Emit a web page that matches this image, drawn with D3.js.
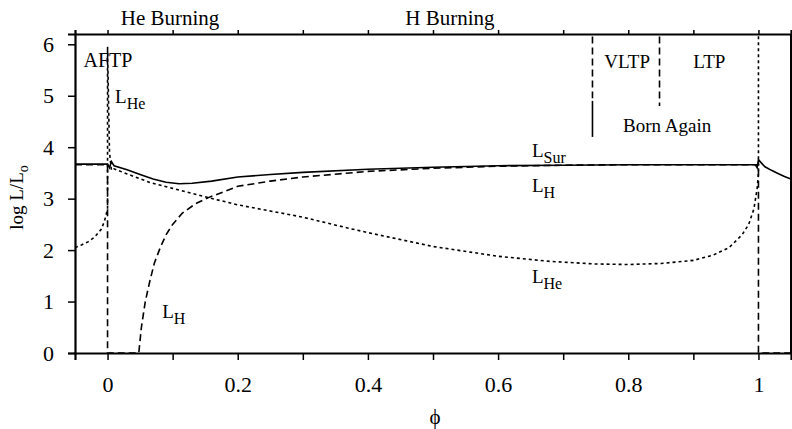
<!DOCTYPE html>
<html lang="en">

<head>
    <meta charset="UTF-8">
    <title>Luminosity vs phase</title>
    <style>
        body { margin: 0; background: #fff; }
        text { font-family: "Liberation Serif", "Times New Roman", serif; fill: #000; }
    </style>
</head>

<body>
    <div id="graph"></div>

    <script src="https://d3js.org/d3.v7.min.js"></script>
    <script>
        // surface luminosity (solid)
        const surPhi = [-0.05, 0, 0.003, 0.006, 0.01, 0.03, 0.05, 0.07, 0.09, 0.11, 0.13, 0.16, 0.2, 0.25, 0.3, 0.4, 0.5, 0.6, 0.7, 0.8, 0.9, 0.995, 0.998, 1.0, 1.004, 1.01, 1.02, 1.03, 1.04, 1.05];
        const surLum = [3.67, 3.67, 3.6, 3.72, 3.64, 3.56, 3.47, 3.38, 3.32, 3.29, 3.3, 3.34, 3.42, 3.47, 3.51, 3.57, 3.61, 3.64, 3.65, 3.66, 3.66, 3.66, 3.6, 3.76, 3.7, 3.62, 3.55, 3.49, 3.43, 3.38];

        // hydrogen burning luminosity (dashed)
        const hPhi = [-0.05, 0, 0, 0.048, 0.052, 0.058, 0.065, 0.072, 0.081, 0.09, 0.1, 0.115, 0.135, 0.155, 0.2, 0.25, 0.3, 0.4, 0.5, 0.6, 0.7, 0.8, 0.9, 1.0, 1.0, 1.05];
        const hLum = [3.66, 3.66, 0, 0, 0.5, 1.0, 1.4, 1.75, 2.05, 2.3, 2.5, 2.72, 2.9, 3.02, 3.24, 3.34, 3.42, 3.53, 3.59, 3.63, 3.65, 3.66, 3.66, 3.66, 0, 0];

        // helium burning luminosity (dotted)
        const hePhi = [-0.05, -0.04, -0.03, -0.02, -0.01, -0.005, -0.002, 0, 0, 0.003, 0.006, 0.01, 0.03, 0.066, 0.1, 0.155, 0.2, 0.3, 0.372, 0.4, 0.5, 0.6, 0.68, 0.75, 0.8, 0.85, 0.9, 0.93, 0.955, 0.975, 0.985, 0.993, 0.998, 1.0, 1.0];
        const heLum = [2.05, 2.1, 2.16, 2.25, 2.4, 2.55, 2.7, 2.8, 5.95, 3.9, 3.55, 3.58, 3.48, 3.31, 3.2, 3.02, 2.88, 2.64, 2.42, 2.34, 2.07, 1.88, 1.78, 1.73, 1.72, 1.74, 1.8, 1.9, 2.05, 2.3, 2.5, 2.8, 3.2, 3.5, 6.5];

        const xTicks = d3.range(0, 1.001, 0.1);
        const xLabels = ["0", "", "0.2", "", "0.4", "", "0.6", "", "0.8", "", "1"];
        const yTicks = [0, 1, 2, 3, 4, 5, 6];

        // phase boundaries for the born again cases
        const vltpPhi = 0.745;
        const ltpPhi = 0.848;

        const width = 792, height = 429;
        const margin = { top: 34, right: 1, bottom: 76, left: 75 };

        const svg = d3.select("#graph").append("svg")
            .attr("width", width)
            .attr("height", height);

        const x = d3.scaleLinear().domain([-0.05, 1.05]).range([margin.left, width - margin.right]);
        const y = d3.scaleLinear().domain([0, 6.2]).range([height - margin.bottom, margin.top]);

        svg.append("clipPath").attr("id", "clip")
            .append("rect")
            .attr("x", margin.left).attr("y", margin.top)
            .attr("width", width - margin.left - margin.right)
            .attr("height", height - margin.top - margin.bottom);

        const plot = svg.append("g").attr("clip-path", "url(#clip)");

        const makeLine = (px, py) => d3.line()
            .x(i => x(px[i]))
            .y(i => y(py[i]))(d3.range(px.length));

        plot.append("path")
            .attr("d", makeLine(hePhi, heLum))
            .attr("fill", "none")
            .attr("stroke", "#000")
            .attr("stroke-width", 1.6)
            .attr("stroke-dasharray", "3,3");

        plot.append("path")
            .attr("d", makeLine(hPhi, hLum))
            .attr("fill", "none")
            .attr("stroke", "#000")
            .attr("stroke-width", 1.6)
            .attr("stroke-dasharray", "7,4");

        plot.append("path")
            .attr("d", makeLine(surPhi, surLum))
            .attr("fill", "none")
            .attr("stroke", "#000")
            .attr("stroke-width", 1.6);

        // VLTP / LTP boundaries
        plot.append("line")
            .attr("x1", x(vltpPhi)).attr("x2", x(vltpPhi))
            .attr("y1", y(6.15)).attr("y2", y(4.95))
            .attr("stroke", "#000").attr("stroke-width", 1.6)
            .attr("stroke-dasharray", "7,4");
        plot.append("line")
            .attr("x1", x(vltpPhi)).attr("x2", x(vltpPhi))
            .attr("y1", y(4.9)).attr("y2", y(4.2))
            .attr("stroke", "#000").attr("stroke-width", 1.6);
        plot.append("line")
            .attr("x1", x(ltpPhi)).attr("x2", x(ltpPhi))
            .attr("y1", y(6.15)).attr("y2", y(4.8))
            .attr("stroke", "#000").attr("stroke-width", 1.6)
            .attr("stroke-dasharray", "7,4");

        // axes
        svg.append("g")
            .attr("transform", `translate(0,${height - margin.bottom})`)
            .call(d3.axisBottom(x).tickValues(xTicks).tickSize(7).tickPadding(16)
                .tickFormat((d, i) => xLabels[i]))
            .call(g => g.select(".domain").attr("stroke-width", 2.2))
            .call(g => g.selectAll(".tick line").attr("stroke-width", 1.5))
            .call(g => g.selectAll("text").style("font-family", "Liberation Serif").style("font-size", "22px"));

        svg.append("g")
            .attr("transform", `translate(0,${margin.top})`)
            .call(d3.axisTop(x).tickValues(xTicks).tickSize(4).tickFormat(""))
            .call(g => g.select(".domain").attr("stroke-width", 2.2))
            .call(g => g.selectAll(".tick line").attr("stroke-width", 1.5));

        svg.append("g")
            .attr("transform", `translate(${margin.left},0)`)
            .call(d3.axisLeft(y).tickValues(yTicks).tickSize(7).tickPadding(14).tickFormat(d3.format("d")))
            .call(g => g.select(".domain").attr("stroke-width", 2.2))
            .call(g => g.selectAll(".tick line").attr("stroke-width", 1.5))
            .call(g => g.selectAll("text").style("font-family", "Liberation Serif").style("font-size", "22px"));

        svg.append("line")
            .attr("x1", width - margin.right).attr("x2", width - margin.right)
            .attr("y1", margin.top).attr("y2", height - margin.bottom)
            .attr("stroke", "#000").attr("stroke-width", 2);

        // axis titles
        svg.append("text")
            .attr("x", x(0.503)).attr("y", 424)
            .attr("text-anchor", "middle")
            .style("font-size", "21px")
            .text("\u03d5");

        const yTitle = svg.append("text")
            .attr("transform", `translate(23,${(margin.top + height - margin.bottom) / 2 + 4}) rotate(-90)`)
            .attr("text-anchor", "middle")
            .style("font-size", "19px");
        yTitle.append("tspan").text("log L/L");
        yTitle.append("tspan").attr("dy", 5).style("font-size", "14px").text("o");

        // annotations
        function subLabel(px, py, main, sub) {
            const t = svg.append("text").attr("x", px).attr("y", py).style("font-size", "19px");
            t.append("tspan").text(main);
            t.append("tspan").attr("dy", 6).style("font-size", "16px").text(sub);
        }

        subLabel(x(0.652), y(3.81), "L", "Sur");
        subLabel(x(0.652), y(3.13), "L", "H");
        subLabel(x(0.652), y(1.36), "L", "He");
        subLabel(x(0.084), y(0.68), "L", "H");
        subLabel(x(0.0115), y(4.86), "L", "He");

        const plain = [
            { text: "AFTP", px: -0.037, py: 5.56, size: 20 },
            { text: "VLTP", px: 0.763, py: 5.54, size: 19 },
            { text: "LTP", px: 0.9, py: 5.54, size: 19 },
            { text: "Born Again", px: 0.792, py: 4.3, size: 19 }
        ];
        plain.forEach(d => {
            svg.append("text")
                .attr("x", x(d.px)).attr("y", y(d.py))
                .style("font-size", d.size + "px")
                .text(d.text);
        });

        svg.append("text")
            .attr("x", x(0.096)).attr("y", 25)
            .attr("text-anchor", "middle")
            .style("font-size", "21px")
            .text("He Burning");
        svg.append("text")
            .attr("x", x(0.526)).attr("y", 25)
            .attr("text-anchor", "middle")
            .style("font-size", "21px")
            .text("H Burning");
    </script>
</body>

</html>
